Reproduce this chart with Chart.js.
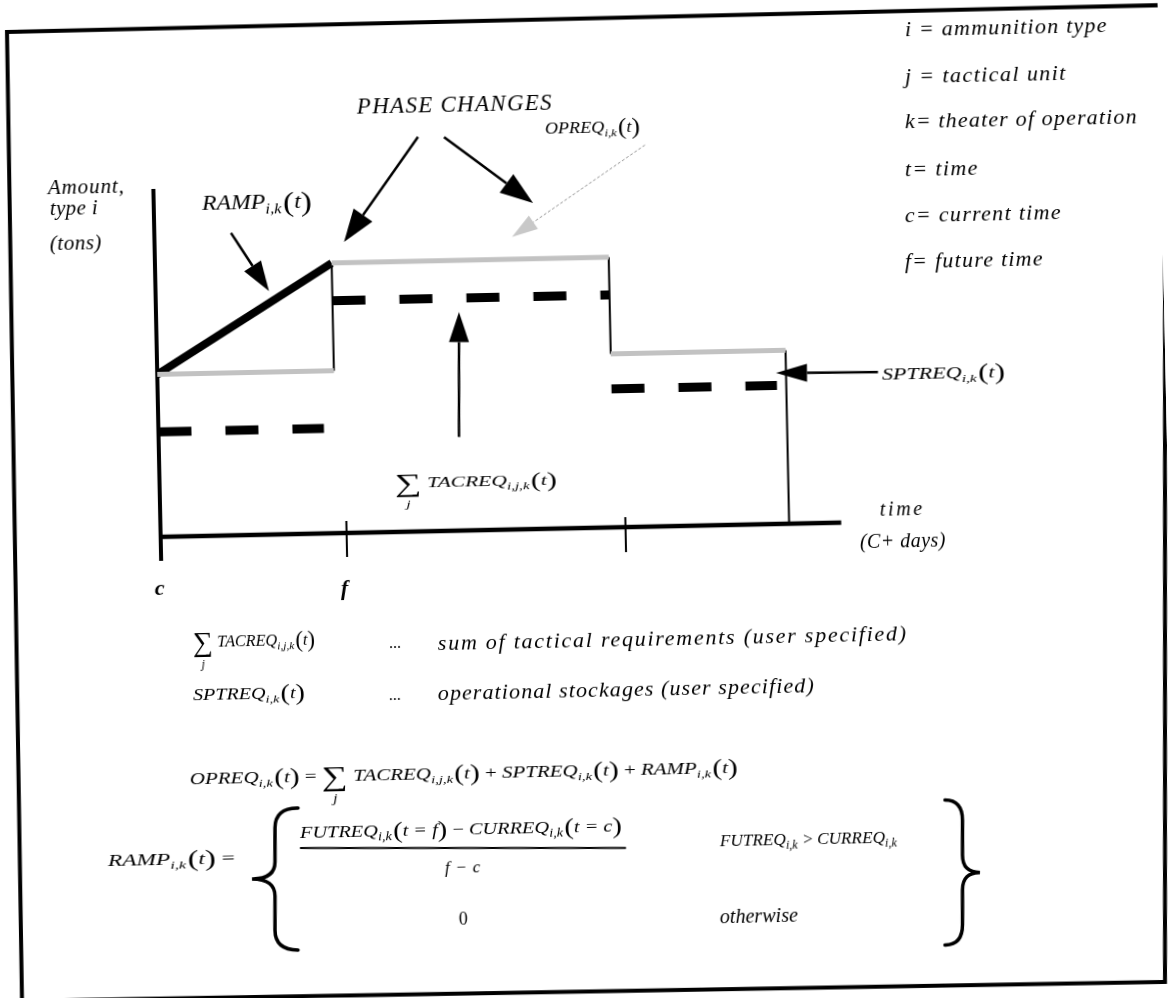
<!DOCTYPE html>
<html><head><meta charset="utf-8">
<script src="https://cdn.jsdelivr.net/npm/chart.js@4"></script>
<style>
html,body{margin:0;padding:0;background:#fff;overflow:hidden;width:1168px;height:998px}
#wrap{position:absolute;left:0;top:0;width:1168px;height:998px;transform:rotate(-1.2deg);transform-origin:584px 499px}
canvas{display:block}
</style></head><body>
<div id="wrap"><canvas id="c" width="1168" height="998"></canvas></div>
<script>
// ---- data (x in days after c, y in tons) ----
const phaseStart = [0, 9.5, 24.4];
const phaseEnd = [9.5, 24.4, 33.8];
const opreqLevel = [58, 96.5, 62];
const tacreqLevel = [37.5, 83, 49.5];
const tacreqEnd = [8.9, 24.4, 33.3];
const rampValues = [58, 96.5];
const axisEndDay = 36.6;
const tickDays = [0, 10, 25];
const tickTop = [124.3, 4.3, 3.6];
const tickBottom = [-8.6, -8.6, -8.9];
const tickLabels = ['c', 'f', ''];
const legendLines = ['i = ammunition type', 'j = tactical unit', 'k= theater of operation', 't= time', 'c= current time', 'f= future time'];

const FONT = '"Liberation Serif","DejaVu Serif",serif';
const SN = Math.sin(1.2 * Math.PI / 180), CS = Math.cos(1.2 * Math.PI / 180);
function P(xv, yv) { const dx = xv - 584, dy = yv - 499; return [584 + dx * CS - dy * SN, 499 + dx * SN + dy * CS]; }

function fitText(ctx, s, xv, yv, px, w, o) {
  o = o || {};
  const [x, y] = P(xv, yv);
  ctx.save();
  ctx.fillStyle = '#000';
  ctx.font = (o.bold ? 'bold ' : '') + (o.upright ? '' : 'italic ') + px + 'px ' + FONT;
  ctx.translate(x, y);
  const m = ctx.measureText(s).width;
  if (w) {
    const extra = (w - m) / s.length;
    if (extra > 0 && extra < 4) ctx.letterSpacing = extra + 'px';
    else ctx.scale(w / m, 1);
  }
  ctx.fillText(s, 0, 0);
  ctx.restore();
}
function tokFont(st, k) {
  if (st === 'n') return 'italic ' + (15 * k) + 'px ' + FONT;
  if (st === 's') return 'italic ' + (10.5 * k) + 'px ' + FONT;
  if (st === 'p') return (21 * k) + 'px ' + FONT;
  if (st === 'S') return (26 * k) + 'px ' + FONT;
  return (15 * k) + 'px ' + FONT;
}
const tokDy = { n: 0, s: 4, p: 2, r: 0, S: 4 };
function mathDraw(ctx, toks, xv, yv, k, w) {
  ctx.save();
  ctx.fillStyle = '#000';
  let total = 0; const ws = [];
  for (const [t, st] of toks) {
    ctx.font = tokFont(st, k);
    let m = ctx.measureText(t).width;
    if (st === 'S') m += 4 * k;
    if (st === 's') m += 1 * k;
    ws.push(m); total += m;
  }
  const [x, y] = P(xv, yv);
  ctx.translate(x, y);
  if (w) ctx.scale(w / total, 1);
  let cx = 0;
  toks.forEach(([t, st], i) => {
    ctx.font = tokFont(st, k);
    ctx.fillText(t, cx, tokDy[st] * k);
    if (st === 'S') {
      ctx.font = 'italic ' + (11 * k) + 'px ' + FONT;
      const jw = ctx.measureText('j').width;
      ctx.fillText('j', cx + (ws[i] - 4 * k) / 2 - jw / 2, 20 * k);
    }
    cx += ws[i];
  });
  ctx.restore();
}
function arrow(ctx, x1, y1, x2, y2, hl, hw, lw, col, headCol, dash) {
  const [a, b] = P(x1, y1), [c, d] = P(x2, y2);
  const ang = Math.atan2(d - b, c - a);
  const bx = c - hl * Math.cos(ang), by = d - hl * Math.sin(ang);
  ctx.save();
  ctx.strokeStyle = col; ctx.lineWidth = lw;
  if (dash) ctx.setLineDash(dash);
  ctx.beginPath(); ctx.moveTo(a, b); ctx.lineTo(bx, by); ctx.stroke();
  ctx.setLineDash([]);
  ctx.fillStyle = headCol;
  ctx.beginPath(); ctx.moveTo(c, d);
  ctx.lineTo(bx + hw / 2 * Math.sin(ang), by - hw / 2 * Math.cos(ang));
  ctx.lineTo(bx - hw / 2 * Math.sin(ang), by + hw / 2 * Math.cos(ang));
  ctx.closePath(); ctx.fill();
  ctx.restore();
}
function brace(ctx, x0, x1, y0, y1, left) {
  const h = y1 - y0, ym = (y0 + y1) / 2, xm = (x0 + x1) / 2;
  const tipX = left ? x0 : x1, armX = left ? x1 : x0;
  const pts = (xa, ya) => P(xa, ya);
  ctx.save();
  ctx.strokeStyle = '#000'; ctx.lineWidth = 3.5; ctx.lineCap = 'round';
  ctx.beginPath();
  let p = pts(armX, y0); ctx.moveTo(p[0], p[1]);
  let c1 = pts(xm, y0), e1 = pts(xm, y0 + h * 0.14); ctx.quadraticCurveTo(c1[0], c1[1], e1[0], e1[1]);
  let e2 = pts(xm, ym - h * 0.12); ctx.lineTo(e2[0], e2[1]);
  let c3 = pts(xm, ym), e3 = pts(tipX, ym); ctx.quadraticCurveTo(c3[0], c3[1], e3[0], e3[1]);
  let e4 = pts(xm, ym + h * 0.12); ctx.quadraticCurveTo(c3[0], c3[1], e4[0], e4[1]);
  let e5 = pts(xm, y1 - h * 0.14); ctx.lineTo(e5[0], e5[1]);
  let c6 = pts(xm, y1), e6 = pts(armX, y1); ctx.quadraticCurveTo(c6[0], c6[1], e6[0], e6[1]);
  ctx.stroke();
  ctx.restore();
}

const OP = [['OPREQ', 'n'], ['i,k', 's'], ['(', 'p'], ['t', 'n'], [')', 'p']];
const TAC = [['∑', 'S'], ['TACREQ', 'n'], ['i,j,k', 's'], ['(', 'p'], ['t', 'n'], [')', 'p']];
const SPT = [['SPTREQ', 'n'], ['i,k', 's'], ['(', 'p'], ['t', 'n'], [')', 'p']];
const RMP = [['RAMP', 'n'], ['i,k', 's'], ['(', 'p'], ['t', 'n'], [')', 'p']];

const annot = {
  id: 'annot',
  beforeDraw(chart) {
    const ctx = chart.ctx; ctx.save(); ctx.fillStyle = '#fff'; ctx.fillRect(0, 0, chart.width, chart.height); ctx.restore();
  },
  afterDraw(chart) {
    const ctx = chart.ctx;
    const xs = chart.scales.x;
    // frame
    ctx.save();
    ctx.strokeStyle = '#000'; ctx.lineWidth = 4;
    const fr = [P(7, 32), P(1165, 5), P(1165, 982), P(22, 1001)];
    ctx.beginPath(); ctx.moveTo(fr[0][0], fr[0][1]);
    for (let i = 1; i < 4; i++) ctx.lineTo(fr[i][0], fr[i][1]);
    ctx.closePath(); ctx.stroke(); ctx.restore();

    // legend
    const lb = [36, 83, 128, 176, 222, 268], lw = [203, 162, 233, 74, 157, 139];
    legendLines.forEach((s, i) => fitText(ctx, s, 905, lb[i], 22, lw[i]));

    // y-axis label
    fitText(ctx, 'Amount,', 48, 194, 21, 77);
    fitText(ctx, 'type i', 50, 215, 21, 48);
    fitText(ctx, '(tons)', 50, 250, 21, 52);

    // tick labels (through the x scale)
    tickLabels.forEach((s, i) => {
      if (!s) return;
      const px = xs.getPixelForValue(tickDays[i]);
      fitText(ctx, s, px - 5, 595, 22, 0, { bold: true });
    });
    fitText(ctx, 'time', 880, 516, 20, 45);
    fitText(ctx, '(C+ days)', 860, 548, 20, 86);

    // annotations
    fitText(ctx, 'PHASE CHANGES', 357, 114, 23, 196);
    arrow(ctx, 418, 137, 344, 242, 33, 23, 2.5, '#000', '#000');
    arrow(ctx, 444, 137, 533, 203, 33, 23, 2.5, '#000', '#000');
    mathDraw(ctx, RMP, 202, 210, 1.35, 110);
    arrow(ctx, 231, 233, 269, 291, 30, 20, 2.5, '#000', '#000');
    mathDraw(ctx, OP, 545, 134, 1.05, 95);
    arrow(ctx, 645, 145, 512, 237, 26, 16, 1, '#999', '#c8c8c8', [3, 2]);
    arrow(ctx, 459, 437, 459, 312, 30, 20, 2.5, '#000', '#000');
    mathDraw(ctx, TAC, 395, 488, 1.0, 162);
    arrow(ctx, 878, 372, 776, 373, 31, 18, 2.5, '#000', '#000');
    mathDraw(ctx, SPT, 882, 380, 1.05, 123);

    // lower definitions
    mathDraw(ctx, TAC, 193, 647, 1.05, 122);
    fitText(ctx, '...', 389, 648, 16, 12, { upright: true });
    fitText(ctx, 'sum of tactical requirements (user specified)', 438, 650, 22, 470);
    mathDraw(ctx, SPT, 193, 700, 1.05, 112);
    fitText(ctx, '...', 389, 700, 16, 12, { upright: true });
    fitText(ctx, 'operational stockages (user specified)', 438, 700, 22, 377);

    const OPF = OP.concat([[' = ', 'r']], TAC, [[' + ', 'r']], SPT, [[' + ', 'r']], RMP);
    mathDraw(ctx, OPF, 190, 784, 1.05, 548);

    mathDraw(ctx, RMP.concat([[' =', 'r']]), 108, 866, 1.05, 127);
    brace(ctx, 252, 298, 808, 950, true);
    brace(ctx, 945, 980, 800, 945, false);
    const NUM = [['FUTREQ', 'n'], ['i,k', 's'], ['(', 'p'], ['t = f', 'n'], [')', 'p'], [' − ', 'r'], ['CURREQ', 'n'], ['i,k', 's'], ['(', 'p'], ['t = c', 'n'], [')', 'p']];
    mathDraw(ctx, NUM, 300, 838, 1.1, 322);
    ctx.save(); ctx.strokeStyle = '#000'; ctx.lineWidth = 2;
    let a = P(300, 848), b = P(626, 848); ctx.beginPath(); ctx.moveTo(a[0], a[1]); ctx.lineTo(b[0], b[1]); ctx.stroke(); ctx.restore();
    fitText(ctx, 'f − c', 445, 873, 17, 36);
    fitText(ctx, '0', 459, 925, 18, 0, { upright: true });
    const COND = [['FUTREQ', 'n'], ['i,k', 's'], [' > ', 'r'], ['CURREQ', 'n'], ['i,k', 's']];
    mathDraw(ctx, COND, 720, 846, 1.15, 178);
    fitText(ctx, 'otherwise', 720, 923, 20, 78);
  }
};

const black = '#000', gray = '#c2c2c2';
const datasets = [];
function seg(pts, color, width, dash) {
  datasets.push({ data: pts, borderColor: color, borderWidth: width, borderDash: dash || [], borderCapStyle: 'butt', pointRadius: 0, fill: false, tension: 0 });
}
// OPREQ (gray)
phaseStart.forEach((s, i) => seg([{ x: s, y: opreqLevel[i] }, { x: phaseEnd[i], y: opreqLevel[i] }], gray, 5));
// step verticals
seg([{ x: phaseEnd[0], y: opreqLevel[0] }, { x: phaseEnd[0], y: opreqLevel[1] }], black, 2);
seg([{ x: phaseEnd[1], y: opreqLevel[1] }, { x: phaseEnd[1], y: opreqLevel[2] }], black, 2);
seg([{ x: phaseEnd[2], y: opreqLevel[2] }, { x: phaseEnd[2], y: 0 }], black, 2);
// ramp
seg([{ x: phaseStart[0], y: rampValues[0] }, { x: phaseEnd[0], y: rampValues[1] }], black, 8);
// TACREQ dashes
phaseStart.forEach((s, i) => seg([{ x: s, y: tacreqLevel[i] }, { x: tacreqEnd[i], y: tacreqLevel[i] }], black, 9, [33, 34]));
// axes and ticks
tickDays.forEach((d, i) => seg([{ x: d, y: tickTop[i] }, { x: d, y: tickBottom[i] }], black, i === 0 ? 4 : 2));
seg([{ x: 0, y: 0 }, { x: axisEndDay, y: 0 }], black, 4.5);

new Chart(document.getElementById('c'), {
  type: 'line',
  data: { datasets },
  options: {
    responsive: false, animation: false, devicePixelRatio: 1,
    layout: { padding: 0 },
    scales: {
      x: { type: 'linear', display: false, min: -8.6, max: 54.2 },
      y: { type: 'linear', display: false, min: -167.86, max: 188.57 }
    },
    plugins: { legend: { display: false }, tooltip: { enabled: false } }
  },
  plugins: [annot]
});
</script>
</body></html>
